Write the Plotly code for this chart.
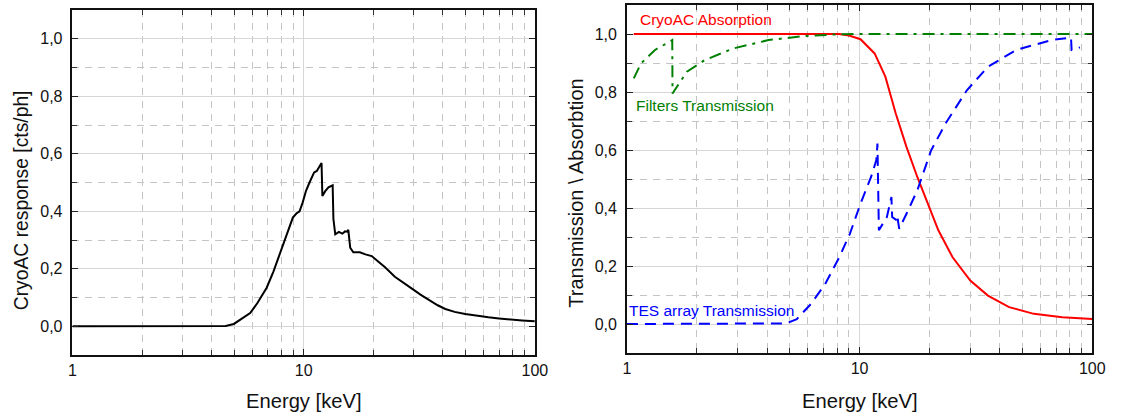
import plotly.graph_objects as go

# ---------------- data ----------------
resp_e = [1.0, 2.0, 3.0, 4.0, 4.3, 4.6, 4.99, 5.4, 5.87, 6.3, 6.92, 7.4, 7.88, 8.4, 8.98, 9.3,
          9.6, 9.9, 10.24, 10.6, 11.1, 11.4, 11.6, 11.9, 11.95, 12.05, 12.4, 12.8, 13.3, 13.35, 13.45,
          13.7, 14.2, 14.7, 15.1, 15.4, 15.6, 15.9, 16.4, 17.5, 18.5, 19.7, 21.0, 22.5, 24.8, 27.0,
          29.5, 32.0, 35.0, 38.0, 41.0, 45.0, 50.0, 56.0, 63.0, 70.0, 78.0, 88.0, 100.0]
resp_v = [0.0, 0.0, 0.0, 0.0, 0.0, 0.001, 0.008, 0.025, 0.046, 0.08, 0.134, 0.19, 0.25, 0.31, 0.378,
          0.392, 0.40, 0.43, 0.471, 0.50, 0.535, 0.54, 0.55, 0.566, 0.568, 0.453, 0.47, 0.483, 0.488,
          0.49, 0.373, 0.32, 0.328, 0.322, 0.33, 0.329, 0.335, 0.273, 0.257, 0.257, 0.25, 0.244, 0.225,
          0.205, 0.172, 0.15, 0.13, 0.11, 0.09, 0.073, 0.06, 0.05, 0.043, 0.036, 0.031, 0.027, 0.023,
          0.02, 0.017]

abs_e = [1.07, 2.0, 4.0, 6.0, 8.18, 9.0, 10.09, 11.6, 12.9, 14.3, 15.9, 17.7, 19.6, 21.8, 25.1, 29.9,
         35.6, 43.9, 56.1, 74.3, 100.0]
abs_v = [1.0, 1.0, 1.0, 1.0, 1.0, 0.995, 0.982, 0.933, 0.853, 0.726, 0.611, 0.507, 0.415, 0.323,
         0.230, 0.150, 0.098, 0.058, 0.035, 0.023, 0.017]

filt_e = [1.07, 1.15, 1.32, 1.566, 1.57, 1.81, 2.16, 2.86, 4.06, 5.76, 8.18, 10.0, 20.0, 50.0, 100.0]
filt_v = [0.847, 0.899, 0.945, 0.979, 0.795, 0.870, 0.910, 0.950, 0.979, 0.993, 0.999, 1.0, 1.0, 1.0, 1.0]

tes_e = [1.0, 2.0, 4.0, 4.83, 5.37, 6.18, 7.11, 8.18, 9.08, 10.09, 11.2, 11.8, 11.93, 12.1, 13.1, 13.7,
         13.8, 14.3, 14.5, 14.8, 15.9, 17.7, 20.3, 23.4, 28.9, 35.6, 47.1, 66.8, 81.0, 81.5, 88.5]
tes_v = [0.0, 0.0, 0.0, 0.002, 0.017, 0.069, 0.138, 0.230, 0.311, 0.415, 0.507, 0.565, 0.622, 0.323,
         0.369, 0.438, 0.369, 0.36, 0.375, 0.328, 0.380, 0.461, 0.599, 0.691, 0.806, 0.887, 0.945,
         0.979, 0.988, 0.945, 0.954]

x_ticks = [1, 10, 100]
x_ticklabels = ["1", "10", "100"]
y_ticks = [0.0, 0.2, 0.4, 0.6, 0.8, 1.0]

W, H = 1124, 414
FONT = "Liberation Sans, Arial, sans-serif"

fig = go.Figure()
fig.add_trace(go.Scatter(x=resp_e, y=resp_v, mode="lines", line=dict(color="black", width=2),
                         xaxis="x", yaxis="y", showlegend=False))
fig.add_trace(go.Scatter(x=abs_e, y=abs_v, mode="lines", line=dict(color="#ff0000", width=2),
                         xaxis="x2", yaxis="y2", showlegend=False))
fig.add_trace(go.Scatter(x=filt_e, y=filt_v, mode="lines",
                         line=dict(color="#008000", width=2, dash="12px,6px,3px,6px"),
                         xaxis="x2", yaxis="y2", showlegend=False))
fig.add_trace(go.Scatter(x=tes_e, y=tes_v, mode="lines",
                         line=dict(color="#0000ff", width=2, dash="11px,7px"),
                         xaxis="x2", yaxis="y2", showlegend=False))


def xaxis(domain, anchor):
    return dict(domain=domain, anchor=anchor, type="log", range=[0, 2],
                tickvals=x_ticks, ticktext=x_ticklabels,
                showline=True, linecolor="#111", linewidth=1.5, mirror="ticks",
                ticks="inside", ticklen=6, tickcolor="#222", tickwidth=1,
                showgrid=True, gridcolor="#d6d6d6", gridwidth=1, zeroline=False,
                tickfont=dict(family=FONT, size=16, color="#111"),
                minor=dict(dtick="D1", showgrid=True, gridcolor="#c4c4c4", griddash="7px,6px",
                           ticks="inside", ticklen=5, tickcolor="#333"))


def yaxis(domain, anchor):
    return dict(domain=domain, anchor=anchor, range=[-0.1, 1.1],
                tickvals=y_ticks, tickformat=".1f",
                showline=True, linecolor="#111", linewidth=1.5, mirror="ticks",
                ticks="inside", ticklen=6, tickcolor="#222", tickwidth=1,
                showgrid=True, gridcolor="#d6d6d6", gridwidth=1, zeroline=False,
                tickfont=dict(family=FONT, size=16, color="#111"), ticklabelstandoff=5,
                minor=dict(dtick=0.1, showgrid=True, gridcolor="#c4c4c4", griddash="7px,6px",
                           ticks="inside", ticklen=5, tickcolor="#333"))


fig.update_layout(
    width=W, height=H, autosize=False,
    margin=dict(l=0, r=0, t=0, b=0),
    paper_bgcolor="white", plot_bgcolor="white",
    separators=",.",
    xaxis=xaxis([69.5 / W, 539 / W], "y"),
    yaxis=yaxis([1 - 355 / H, 1 - 10 / H], "x"),
    xaxis2=xaxis([632.5 / W, 1105 / W], "y2"),
    yaxis2=yaxis([1 - 353 / H, 1 - 5 / H], "x2"),
)

ann = [
    dict(text="CryoAC response [cts/ph]", x=18.5 / W, y=1 - 200 / H, textangle=-90, size=19.3),
    dict(text="Transmission \\ Absorbtion", x=580 / W, y=1 - 193.5 / H, textangle=-90, size=20),
    dict(text="Energy [keV]", x=304.5 / W, y=1 - 401 / H, textangle=0, size=20.2),
    dict(text="Energy [keV]", x=869 / W, y=1 - 401 / H, textangle=0, size=20.2),
]
for a in ann:
    fig.add_annotation(text=a["text"], x=a["x"], y=a["y"], xref="paper", yref="paper",
                       textangle=a["textangle"], showarrow=False, xanchor="center", yanchor="middle",
                       font=dict(family=FONT, size=a["size"], color="#111"))

labels = [("CryoAC Absorption", 645, 19.5, "#ff0000"),
          ("Filters Transmission", 641, 105.5, "#008000"),
          ("TES array Transmission", 633.5, 310, "#0000ff")]
for t, px, py, c in labels:
    fig.add_annotation(text=t, x=px / W, y=1 - py / H, xref="paper", yref="paper", showarrow=False,
                       xanchor="left", yanchor="middle", xshift=-1,
                       font=dict(family=FONT, size=15.5, color=c))

fig.write_html("out.html", config={"responsive": False},
               post_script="document.body.style.margin='0';document.body.style.overflow='hidden';")
